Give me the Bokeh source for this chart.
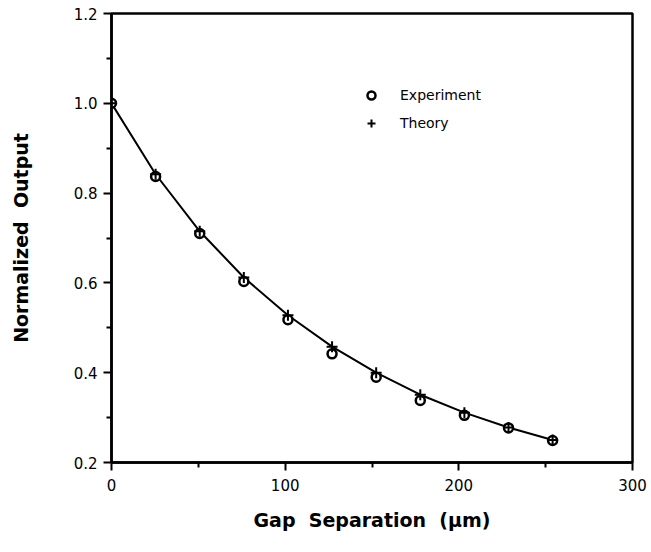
from bokeh.plotting import figure
from bokeh.models import FixedTicker, Range1d, Legend, LegendItem, ColumnDataSource
from bokeh.embed import file_html
from bokeh.resources import INLINE

# Data
gap_um = [0, 25.4, 50.8, 76.2, 101.6, 127.0, 152.4, 177.8, 203.2, 228.6, 254.0]
experiment = [1.0, 0.837, 0.710, 0.603, 0.518, 0.442, 0.390, 0.338, 0.305, 0.277, 0.249]
theory = [1.0, 0.842, 0.715, 0.612, 0.528, 0.458, 0.400, 0.351, 0.311, 0.278, 0.250]

x_ticks = [0, 100, 200, 300]
x_minor = [50, 150, 250]
y_ticks = [0.2, 0.4, 0.6, 0.8, 1.0, 1.2]
y_minor = [0.3, 0.5, 0.7, 0.9, 1.1]

FONT = "DejaVu Sans"

p = figure(width=651, height=552, output_backend="svg", toolbar_location=None,
           x_range=Range1d(0, 300), y_range=Range1d(0.2, 1.2),
           min_border_left=111, min_border_right=19, min_border_top=13, min_border_bottom=90)
p.background_fill_color = "white"
p.border_fill_color = "white"
p.grid.visible = False
p.outline_line_color = "black"
p.outline_line_width = 2.5

src_e = ColumnDataSource(dict(x=gap_um, y=experiment))
src_t = ColumnDataSource(dict(x=gap_um, y=theory))

p.line("x", "y", source=src_t, line_color="black", line_width=2)
r_e = p.scatter("x", "y", source=src_e, marker="circle", size=9, fill_color="white",
                line_color="black", line_width=2.5)
r_t = p.scatter("x", "y", source=src_t, marker="cross", size=11, line_color="black", line_width=2)

for ax in (p.xaxis[0], p.yaxis[0]):
    ax.axis_line_width = 2.5
    ax.axis_line_color = "black"
    ax.major_tick_out = 8
    ax.major_tick_in = 0
    ax.minor_tick_out = 5
    ax.minor_tick_in = 0
    ax.major_tick_line_width = 2
    ax.minor_tick_line_width = 2
    ax.major_tick_line_color = "black"
    ax.minor_tick_line_color = "black"
    ax.major_label_text_font = FONT
    ax.major_label_text_font_size = "15px"
    ax.major_label_text_color = "black"
    ax.axis_label_text_font = FONT
    ax.axis_label_text_font_style = "bold"
    ax.axis_label_text_font_size = "19px"
    ax.axis_label_text_color = "black"

p.xaxis.ticker = FixedTicker(ticks=x_ticks, minor_ticks=x_minor)
p.yaxis.ticker = FixedTicker(ticks=y_ticks, minor_ticks=y_minor)
p.yaxis.major_label_overrides = {v: f"{v:.1f}" for v in y_ticks}
p.xaxis.major_label_standoff = 8
p.yaxis.major_label_standoff = 6
p.xaxis.axis_label = "Gap\u00a0\u00a0Separation\u00a0\u00a0(\u00b5m)"
p.yaxis.axis_label = "Normalized\u00a0\u00a0Output"
p.xaxis.axis_label_standoff = 15
p.yaxis.axis_label_standoff = 39

legend = Legend(items=[LegendItem(label="Experiment", renderers=[r_e]),
                       LegendItem(label="Theory", renderers=[r_t])],
                location=(250, 329), padding=0, margin=0, spacing=8,
                glyph_width=20, glyph_height=20, label_standoff=19,
                border_line_color=None, background_fill_alpha=0,
                label_text_font=FONT, label_text_font_size="14px",
                label_text_color="black")
p.add_layout(legend)

open("out.html", "w").write(file_html(p, INLINE))
